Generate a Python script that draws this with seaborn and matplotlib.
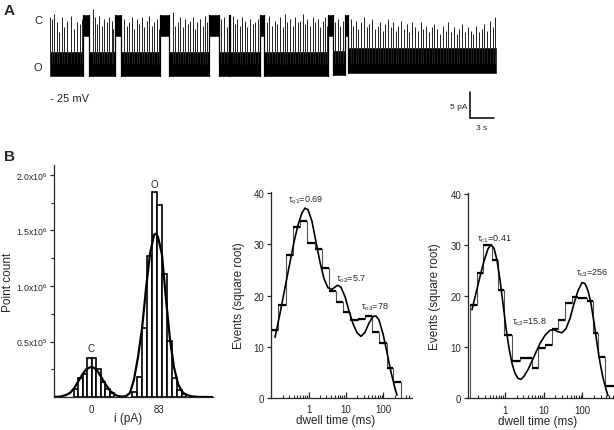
import numpy as np
import pandas as pd
import matplotlib
matplotlib.use("Agg")
import matplotlib.pyplot as plt
import seaborn as sns
from matplotlib.ticker import FixedLocator, NullFormatter

# ---------------- data ----------------
# Panel A : single-channel record (time in s, current in pA, open level = 0)
state_start = [0.0, 4.12, 4.77, 8.02, 8.72, 13.58, 14.69, 19.67, 20.90, 22.06,
               22.23, 25.93, 26.46, 34.36, 34.90, 36.42, 36.83]
state_end = [4.12, 4.77, 8.02, 8.72, 13.58, 14.69, 19.67, 20.90, 22.06, 22.23,
             25.93, 26.46, 34.36, 34.90, 36.42, 36.83, 55.0]
state_level = ["O", "C", "O", "C", "O", "C", "O", "C", "O", "C",
               "O", "C", "O", "C", "O", "C", "O"]
band_low = [-2.4, 5.3, -2.4, 5.3, -2.4, 5.3, -2.4, 5.3, -2.4, 5.3,
            -2.4, 5.3, -2.4, 5.3, -2.3, 5.3, -1.8]
band_high = [2.3, 9.4, 2.3, 9.4, 2.3, 9.4, 2.3, 9.4, 2.3, 9.4,
             2.3, 9.4, 2.3, 9.4, 2.4, 9.4, 3.0]

spike_t = [0.0, 0.29, 0.53, 0.82, 1.07, 1.48, 1.77, 2.06, 2.59, 2.96, 3.29, 3.70, 3.95,
           5.27, 5.56, 5.84, 6.09, 6.38, 6.67, 7.00, 7.28, 7.61, 7.82,
           9.14, 9.47, 9.79, 10.08, 10.37, 10.70, 11.03, 11.32, 11.60, 11.93, 12.26,
           12.55, 12.84, 13.17, 13.42,
           15.14, 15.43, 15.76, 16.05, 16.38, 16.67, 17.00, 17.28, 17.61, 17.90, 18.19,
           18.52, 18.85, 19.14, 19.42,
           21.11, 21.48, 21.81, 22.55, 22.84, 23.13, 23.46, 23.74, 24.07, 24.36, 24.69,
           25.02, 25.31, 25.64,
           26.75, 27.08, 27.41, 27.74, 28.07, 28.40, 28.72, 29.01, 29.30, 29.63, 29.96,
           30.25, 30.58, 30.86, 31.19, 31.48, 31.77, 32.10, 32.43, 32.72, 33.05, 33.33,
           33.66, 33.95, 34.24,
           35.19, 35.51, 35.80, 36.13,
           37.12, 37.45, 37.78, 38.07, 38.40, 38.77, 39.09, 39.42, 39.75, 40.12, 40.45,
           40.74, 41.07, 41.40, 41.77, 42.06, 42.39, 42.72, 43.00, 43.33, 43.66, 44.03,
           44.36, 44.69, 45.06, 45.39, 45.76, 46.09, 46.42, 46.79, 47.12, 47.45, 47.82,
           48.15, 48.48, 48.85, 49.18, 49.51, 49.88, 50.21, 50.53, 50.91, 51.23, 51.56,
           51.93, 52.26, 52.59, 52.96, 53.29, 53.62, 53.99, 54.32, 54.65, 54.94]
spike_top = [8.9, 8.6, 9.5, 7.9, 6.0, 8.9, 7.0, 8.2, 9.2, 6.6, 7.9, 7.6, 8.6,
             10.5, 8.9, 7.6, 9.2, 7.3, 8.6, 7.9, 8.9, 8.2, 6.6,
             8.6, 7.3, 7.9, 8.9, 6.6, 8.6, 7.6, 8.9, 7.0, 8.2, 9.2,
             7.3, 7.9, 8.6, 6.6,
             10.0, 7.3, 7.9, 8.9, 7.0, 8.6, 7.6, 8.2, 8.9, 6.6, 7.9,
             8.6, 7.3, 9.2, 7.9,
             8.6, 8.9, 7.0, 9.2, 7.6, 8.6, 7.3, 8.9, 8.2, 7.0, 8.6,
             7.6, 7.9, 8.6,
             7.9, 9.2, 7.3, 8.2, 7.6, 8.9, 7.0, 9.5, 7.9, 8.6, 7.3,
             8.9, 7.9, 8.2, 9.5, 7.6, 8.6, 7.3, 8.9, 7.9, 8.6, 7.0,
             8.2, 8.9, 7.3,
             7.9, 8.6, 7.3, 8.2,
             8.6, 7.3, 8.2, 6.6, 7.9, 8.9, 7.0, 7.6, 8.6, 6.6, 7.3,
             7.9, 6.3, 7.6, 8.6, 7.0, 7.9, 6.3, 7.3, 8.2, 6.6, 7.6,
             6.0, 7.9, 7.0, 6.3, 7.9, 6.6, 7.3, 6.0, 7.0, 7.6, 6.6,
             5.7, 7.3, 6.3, 7.9, 6.0, 7.0, 5.7, 6.6, 7.6, 6.0, 7.0,
             6.3, 5.7, 7.3, 6.0, 6.6, 7.6, 6.3, 8.2, 7.0, 8.9]
scale_pA = 5
scale_s = 3

# Panel B left : amplitude histogram (point count)
amp_closed_edges = [-22.0, -16.5, -11.0, -5.5, 0.0, 5.5, 11.0, 16.5, 22.0, 27.5]
amp_closed_counts = [0.075e6, 0.17e6, 0.21e6, 0.35e6, 0.35e6, 0.25e6, 0.14e6, 0.075e6, 0.04e6]
amp_open_edges = [49.5, 55.0, 61.2, 67.9, 74.0, 80.2, 86.3, 92.5, 98.6, 104.7, 110.9, 115.8]
amp_open_counts = [0.05e6, 0.18e6, 0.62e6, 1.27e6, 1.84e6, 1.73e6, 1.11e6, 0.51e6,
                   0.17e6, 0.07e6, 0.03e6]
amp_fit_x = [-46.3, -38.9, -31.6, -26.6, -21.7, -16.8, -11.9, -7.0, -2.1, 0.4, 2.8, 7.7,
             12.6, 17.6, 22.5, 27.4, 32.3, 37.2, 42.1, 47.0, 51.9, 56.8, 61.8, 66.7,
             71.6, 76.5, 78.9, 81.4, 86.3, 91.2, 96.1, 101.0, 106.0, 110.9, 115.8,
             123.1, 133.0, 148.9]
amp_fit_y = [0.004e6, 0.006e6, 0.02e6, 0.04e6, 0.08e6, 0.14e6, 0.20e6, 0.25e6, 0.27e6,
             0.272e6, 0.265e6, 0.23e6, 0.17e6, 0.11e6, 0.06e6, 0.028e6, 0.012e6,
             0.006e6, 0.01e6, 0.04e6, 0.16e6, 0.36e6, 0.62e6, 0.98e6, 1.29e6, 1.46e6,
             1.47e6, 1.44e6, 1.28e6, 0.88e6, 0.52e6, 0.27e6, 0.12e6, 0.05e6, 0.022e6,
             0.008e6, 0.003e6, 0.002e6]
amp_ticks = [0, 83]
amp_yticks = [0.5e6, 1.0e6, 1.5e6, 2.0e6]
amp_yticklabels = ["0.5x10$^{5}$", "1.0x10$^{6}$", "1.5x10$^{6}$", "2.0x10$^{6}$"]

# Panel B middle : open dwell times (ms), sqrt(events)
open_edges = [0.1, 0.153, 0.246, 0.372, 0.585, 0.916, 1.476, 2.32, 3.56, 5.40, 8.47,
              12.8, 21.4, 32.3, 50.7, 78.2, 123, 185, 292]
open_sqrt = [13.3, 18.2, 28.0, 33.4, 34.5, 30.3, 29.1, 25.4, 20.9, 18.7, 16.8, 15.2,
             15.5, 16.0, 12.9, 10.8, 5.9, 3.1]
open_fit_t = [0.125, 0.170, 0.246, 0.315, 0.404, 0.516, 0.661, 0.796, 0.958, 1.225,
              1.570, 2.01, 2.57, 3.29, 4.21, 5.40, 6.11, 7.35, 9.40, 12.0, 15.4, 19.7,
              25.2, 32.3, 41.4, 53.0, 63.7, 76.7, 98.2, 126, 161, 206, 233]
open_fit_y = [11.8, 16.5, 22.5, 26.5, 30.5, 33.8, 36.2, 37.1, 36.8, 34.5, 30.5, 26.5,
              23.3, 21.5, 21.2, 21.8, 22.0, 21.6, 19.8, 17.0, 14.5, 12.7, 12.0, 12.8,
              14.6, 15.9, 16.0, 15.2, 12.5, 8.8, 5.0, 1.8, 0.5]
open_tau_labels = ["o1", "o2", "o3"]
open_tau_values = ["0.69", "5.7", "78"]

# Panel B right : closed dwell times (ms), sqrt(events)
closed_edges = [0.125, 0.186, 0.275, 0.453, 0.671, 0.971, 1.49, 2.44, 4.90, 7.25, 10.8,
                16.1, 23.8, 35.5, 52.9, 78.3, 129, 191, 258, 384, 629, 937]
closed_sqrt = [18.3, 24.5, 30.0, 27.0, 21.1, 12.3, 7.3, 7.8, 6.0, 9.8, 10.4, 13.5,
               15.3, 18.7, 19.8, 19.5, 19.0, 12.7, 8.0, 2.5, 2.5]
closed_fit_t = [0.140, 0.178, 0.226, 0.287, 0.364, 0.435, 0.520, 0.621, 0.743, 0.888,
                1.06, 1.27, 1.52, 1.81, 2.17, 2.59, 3.10, 3.93, 4.99, 6.32, 8.02, 10.8,
                14.6, 18.5, 23.4, 29.7, 37.7, 47.8, 60.7, 76.9, 97.7, 117, 140, 167,
                200, 238, 285, 341, 407, 459]
closed_fit_y = [17.3, 20.5, 23.8, 26.8, 29.2, 30.0, 29.3, 27.0, 23.2, 18.5, 13.8, 9.8,
                6.8, 4.9, 3.9, 3.7, 4.3, 5.6, 7.3, 9.0, 10.7, 12.3, 13.3, 13.4, 13.0,
                12.8, 13.6, 15.6, 18.5, 21.0, 22.6, 22.4, 21.0, 18.5, 14.8, 10.8, 7.0,
                4.0, 1.8, 0.5]
closed_tau_labels = ["c1", "c2", "c3"]
closed_tau_values = ["0.41", "15.8", "256"]

# ---------------- style ----------------
sns.set_theme(style="ticks")
plt.rcParams["font.family"] = ["Liberation Sans", "DejaVu Sans"]
plt.rcParams["mathtext.default"] = "regular"
plt.rcParams["axes.linewidth"] = 0.9
plt.rcParams["xtick.major.width"] = 0.9
plt.rcParams["ytick.major.width"] = 0.9
plt.rcParams["xtick.minor.width"] = 0.8
plt.rcParams["ytick.minor.width"] = 0.8

W, H = 614, 431
fig = plt.figure(figsize=(W / 100, H / 100), dpi=100)


def fx(px):
    return px / W


def fy(py):
    return 1 - py / H


# ---------------- Panel A ----------------
axA = fig.add_axes([0, fy(140), 1, 140 / H])
axA.set_xlim(-50 / 8.1, (W - 50) / 8.1)
axA.set_ylim((64.5 - 140) / 5.2, 64.5 / 5.2)
axA.axis("off")
for s, e, lo, hi in zip(state_start, state_end, band_low, band_high):
    axA.fill_between([s, e], [lo, lo], [hi, hi], color="black", lw=0.4)
for i in range(1, len(state_start)):
    axA.plot([state_start[i], state_start[i]],
             [min(band_low[i], band_low[i - 1]), max(band_high[i], band_high[i - 1])],
             color="black", lw=0.9)
axA.vlines(spike_t, 0, spike_top, color="#202020", lw=0.7)
# scale bar
x0 = (470 - 50) / 8.1
y0 = (64.5 - 119) / 5.2
axA.plot([x0, x0, x0 + scale_s], [y0 + scale_pA, y0, y0], color="black", lw=1.1,
         solid_joinstyle="miter")
fig.text(fx(467), fy(108), f"{scale_pA} pA", ha="right", va="center", fontsize=6)
fig.text(fx(482), fy(128), f"{scale_s} s", ha="center", va="center", fontsize=6)
fig.text(fx(38), fy(21), "C", ha="center", va="center", fontsize=8)
fig.text(fx(38), fy(68), "O", ha="center", va="center", fontsize=8)
fig.text(fx(50), fy(99), "- 25 mV", ha="left", va="center", fontsize=8)
fig.text(fx(4), fy(11), "A", ha="left", va="center", fontsize=11, fontweight="bold")
fig.text(fx(4), fy(157), "B", ha="left", va="center", fontsize=11, fontweight="bold")

# ---------------- Panel B left ----------------
ax1 = fig.add_axes([fx(54), fy(398.3), (213 - 54) / W, (398.3 - 166) / H])
for edges, counts in [(amp_closed_edges, amp_closed_counts), (amp_open_edges, amp_open_counts)]:
    centers = [(a + b) / 2 for a, b in zip(edges[:-1], edges[1:])]
    sns.histplot(x=centers, weights=counts, bins=edges, ax=ax1, color="white",
                 edgecolor="black", linewidth=1.2, alpha=1)
sns.lineplot(x=amp_fit_x, y=amp_fit_y, ax=ax1, color="black", lw=1.6, sort=False,
             estimator=None)
ax1.set_xlim(-46.3, 148.9)
ax1.set_ylim(0, 2.087e6)
ax1.set_xticks(amp_ticks)
ax1.set_xticklabels([str(v) for v in amp_ticks], fontsize=7)
ax1.tick_params(axis="x", length=0, pad=5)
ax1.set_yticks(amp_yticks)
ax1.set_yticklabels(amp_yticklabels, fontsize=6.3)
ax1.yaxis.set_minor_locator(FixedLocator([0.25e6, 0.75e6, 1.25e6, 1.75e6]))
ax1.tick_params(axis="y", which="major", direction="out", length=3, pad=1.5)
ax1.tick_params(axis="y", which="minor", direction="out", length=2)
ax1.set_xlabel("i (pA)", fontsize=8.5)
ax1.xaxis.set_label_coords(0.465, -0.062)
ax1.set_ylabel("Point count", fontsize=8.5)
ax1.yaxis.set_label_coords(-0.25, 0.5)
ax1.text(76.9, 1.916e6, "O", ha="center", va="center", fontsize=7)
ax1.text(-1.2, 0.44e6, "C", ha="center", va="center", fontsize=7)
sns.despine(ax=ax1)


def dwell_panel(ax, edges, sq, fit_t, fit_y, xlim, ylim, taus, tvals, tpos, xlab_x, ylab_x):
    ax.set_xscale("log")
    ax.stairs(sq, edges, baseline=0, color="#505050", lw=0.8)
    ax.hlines(sq, edges[:-1], edges[1:], color="black", lw=1.6)
    sns.lineplot(x=fit_t, y=fit_y, ax=ax, color="black", lw=1.2, sort=False,
                 estimator=None)
    ax.set_xlim(*xlim)
    ax.set_ylim(*ylim)
    ax.set_xticks([1, 10, 100])
    ax.set_xticklabels(["1", "10", "100"], fontsize=7)
    ax.xaxis.set_minor_locator(matplotlib.ticker.LogLocator(base=10, subs=np.arange(2, 10)))
    ax.xaxis.set_minor_formatter(NullFormatter())
    ax.tick_params(axis="x", which="major", direction="in", length=4, pad=4.5)
    ax.tick_params(axis="x", which="minor", direction="in", length=2.5)
    ax.set_yticks([0, 10, 20, 30, 40])
    ax.set_yticklabels(["0", "10", "20", "30", "40"], fontsize=7)
    ax.tick_params(axis="y", direction="out", length=3, pad=2)
    ax.set_xlabel("dwell time (ms)", fontsize=8.5)
    ax.xaxis.set_label_coords(xlab_x, -0.08)
    ax.set_ylabel("Events (square root)", fontsize=8.5)
    ax.yaxis.set_label_coords(ylab_x, 0.5)
    for lab, val, (x, y) in zip(taus, tvals, tpos):
        ax.text(x, y, "τ$_{" + lab + "}$=" + val, ha="left", va="center", fontsize=6.5)
    sns.despine(ax=ax)


ax2 = fig.add_axes([fx(271.4), fy(398.7), (412.3 - 271.4) / W, (398.7 - 193.3) / H])
dwell_panel(ax2, open_edges, open_sqrt, open_fit_t, open_fit_y, (0.1, 599), (0, 40.2),
            open_tau_labels, open_tau_values, [(0.274, 38.9), (5.4, 23.4), (25.2, 17.9)],
            0.455, -0.19)

ax3 = fig.add_axes([fx(468.3), fy(399.3), (614 - 468.3) / W, (399.3 - 194) / H])
dwell_panel(ax3, closed_edges, closed_sqrt, closed_fit_t, closed_fit_y, (0.1127, 656),
            (0, 40.1), closed_tau_labels, closed_tau_values,
            [(0.186, 31.3), (1.52, 15.1), (70, 24.6)], 0.478, -0.185)

fig.savefig("out.png", dpi=100)
